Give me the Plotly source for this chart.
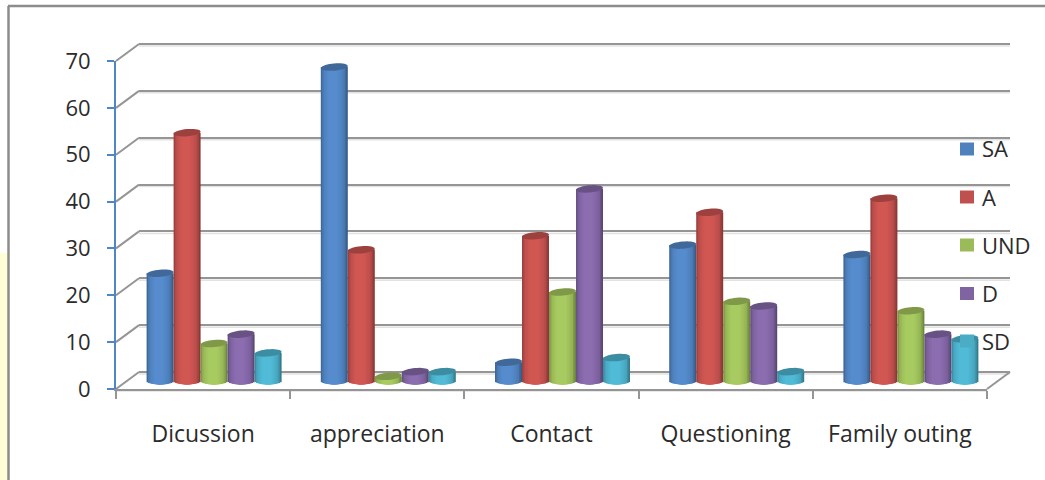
import numpy as np
import plotly.graph_objects as go

# Survey responses per communication topic
categories = ["Dicussion", "appreciation", "Contact", "Questioning", "Family outing"]
series_names = ["SA", "A", "UND", "D", "SD"]
sa_values = [23, 67, 4, 29, 27]
a_values = [53, 28, 31, 36, 39]
und_values = [8, 1, 19, 17, 15]
d_values = [10, 2, 41, 16, 10]
sd_values = [6, 2, 5, 2, 9]
y_ticks = [0, 10, 20, 30, 40, 50, 60, 70]
series_values = [sa_values, a_values, und_values, d_values, sd_values]
series_colors = ["#4F81BD", "#C0504D", "#9BBB59", "#8064A2", "#4BACC6"]
legend_rows = [148.5, 196.5, 244.5, 293.0, 340.5]

W, H = 1045, 480
FONT = "Open Sans"
TEXT = "#2b2b2b"
GRID = "#959595"


def fx(px):
    return px / W


def fy(px):
    return 1 - px / H


def shade(hex_color, factor):
    rgb = [int(hex_color[i:i + 2], 16) for i in (1, 3, 5)]
    return "rgb({},{},{})".format(*[min(255, int(c * factor)) for c in rgb])


# Pixel geometry of the pseudo-3D box
FRONT_L, FRONT_R, FRONT_TOP, FRONT_BOT = 116, 987, 61, 389
DEPTH_X, DEPTH_Y = 23, 17
BAR_DX, BAR_ZERO, BAR_TOP = 11, 381, 53
CAT_PX = (FRONT_R - FRONT_L) / len(categories)
UNIT_PX = (BAR_ZERO - BAR_TOP) / 70
WALL_UNIT = (FRONT_BOT - FRONT_TOP) / 70
BAR_PX = 27
STRIPS = 18
CAP_RY = 3.6
TILT = np.radians(-5)
# Extra value range so wall gridlines at 0 and 70 and the bars' curved undersides stay inside
WALL_PAD = 4
BAR_PAD = 3

fig = go.Figure()

# Back wall: its gridlines come from this subplot's own axis
fig.add_trace(go.Scatter(x=[0], y=[0], xaxis="x", yaxis="y", mode="none",
                         showlegend=False, hoverinfo="skip"))
# Front axes, carrying the tick labels
fig.add_trace(go.Scatter(x=categories, y=[0] * len(categories), xaxis="x2", yaxis="y2",
                         mode="none", showlegend=False, hoverinfo="skip"))

# Each cylinder is nested shaded bars painted from both edges towards the middle,
# so neighbouring strips never leave a seam and the underside stays curved
x_index = list(range(len(categories)))
strip_w = BAR_PX / STRIPS / CAT_PX
mid = STRIPS // 2
paint_order = list(range(mid)) + list(range(STRIPS - 1, mid - 1, -1))
for s, (name, vals, color) in enumerate(zip(series_names, series_values, series_colors)):
    start = (s - 2.5) * BAR_PX / CAT_PX
    for k in paint_order:
        t = (k + 0.5) / STRIPS
        factor = np.interp(t, [0, 0.1, 0.3, 0.6, 0.85, 1], [0.76, 0.98, 1.09, 1.09, 0.97, 0.66])
        arc = (CAP_RY / UNIT_PX) * np.sqrt(max(0, 1 - (2 * t - 1) ** 2))
        if k < mid:
            offset, width = start + k * strip_w, (mid - k) * strip_w
        else:
            offset, width = start + mid * strip_w, (k + 1 - mid) * strip_w
        fig.add_trace(go.Bar(
            x=x_index, y=[v + arc for v in vals], base=[-arc] * len(vals),
            width=width, offset=offset,
            xaxis="x3", yaxis="y3", marker=dict(color=shade(color, factor), line=dict(width=0)),
            name=name, showlegend=False, hoverinfo="skip",
        ))

shapes = []

# Pale page panel and the outer frame
shapes.append(dict(type="rect", xref="paper", yref="paper", x0=0, x1=fx(7.5), y0=fy(480), y1=fy(253),
                   fillcolor="#FFFFD6", line=dict(width=0), layer="below"))
shapes.append(dict(type="line", xref="paper", yref="paper", x0=fx(8.5), x1=fx(8.5), y0=fy(480), y1=fy(6),
                   line=dict(color="#8c8c8c", width=2.5), layer="below"))
shapes.append(dict(type="line", xref="paper", yref="paper", x0=fx(8), x1=1, y0=fy(6), y1=fy(6),
                   line=dict(color="#8c8c8c", width=2.5), layer="below"))

# Soft shadow under the wall gridlines, and the side-wall diagonals
for v in y_ticks:
    py = FRONT_BOT - WALL_UNIT * v
    shapes.append(dict(type="line", xref="paper", yref="paper",
                       x0=fx(FRONT_L + DEPTH_X), x1=fx(FRONT_R + DEPTH_X),
                       y0=fy(py - DEPTH_Y + 2), y1=fy(py - DEPTH_Y + 2),
                       line=dict(color="#e2e2e2", width=1.5), layer="below"))
    shapes.append(dict(type="line", xref="paper", yref="paper",
                       x0=fx(FRONT_L), x1=fx(FRONT_L + DEPTH_X), y0=fy(py), y1=fy(py - DEPTH_Y),
                       line=dict(color=GRID, width=2), layer="below"))
shapes.append(dict(type="line", xref="paper", yref="paper",
                   x0=fx(FRONT_R), x1=fx(FRONT_R + DEPTH_X), y0=fy(FRONT_BOT), y1=fy(FRONT_BOT - DEPTH_Y),
                   line=dict(color=GRID, width=2), layer="below"))
shapes.append(dict(type="line", xref="paper", yref="paper",
                   x0=fx(FRONT_L), x1=fx(FRONT_R), y0=fy(FRONT_BOT + 2), y1=fy(FRONT_BOT + 2),
                   line=dict(color="#e2e2e2", width=1.5), layer="below"))

# Slightly tilted elliptical caps, placed at each bar's value
theta = np.linspace(0, 2 * np.pi, 37)[:-1]
ex = (BAR_PX / 2) * np.cos(theta)
ey = CAP_RY * np.sin(theta)
cap_dx = (ex * np.cos(TILT) - ey * np.sin(TILT)) / CAT_PX
cap_dy = -(ex * np.sin(TILT) + ey * np.cos(TILT)) / UNIT_PX
for s, (vals, color) in enumerate(zip(series_values, series_colors)):
    for i, v in enumerate(vals):
        cx = i + (s - 2) * BAR_PX / CAT_PX
        pts = [f"{cx + dx:.5f},{v + dy:.4f}" for dx, dy in zip(cap_dx, cap_dy)]
        shapes.append(dict(type="path", xref="x3", yref="y3", path="M" + " L".join(pts) + " Z",
                           fillcolor=shade(color, 0.82), line=dict(width=0)))

# Legend keys sit on top of everything
annotations = []
for name, color, row in zip(series_names, series_colors, legend_rows):
    shapes.append(dict(type="rect", xref="paper", yref="paper", x0=fx(960), x1=fx(974),
                       y0=fy(row + 7), y1=fy(row - 6), fillcolor=color, line=dict(width=0)))
    annotations.append(dict(xref="paper", yref="paper", x=fx(980), y=fy(row), text=name,
                            xanchor="left", yanchor="middle", showarrow=False,
                            font=dict(family=FONT, size=22, color=TEXT)))

fig.update_layout(
    width=W, height=H, margin=dict(l=0, r=0, t=0, b=0), autosize=False,
    paper_bgcolor="white", plot_bgcolor="rgba(0,0,0,0)",
    barmode="overlay", showlegend=False, shapes=shapes, annotations=annotations,
    font=dict(family=FONT, size=20, color=TEXT),
    xaxis=dict(domain=[fx(FRONT_L + DEPTH_X), fx(FRONT_R + DEPTH_X)], range=[0, 1], visible=True,
               showgrid=False, zeroline=False, showline=False, showticklabels=False, ticks="", anchor="y",
               automargin=False),
    yaxis=dict(domain=[fy(FRONT_BOT - DEPTH_Y + WALL_PAD * WALL_UNIT), fy(FRONT_TOP - DEPTH_Y - WALL_PAD * WALL_UNIT)],
               range=[-WALL_PAD, 70 + WALL_PAD], tickvals=y_ticks,
               showgrid=True, gridcolor=GRID, gridwidth=2, zeroline=False, showline=False,
               showticklabels=False, ticks="", anchor="x", automargin=False),
    xaxis2=dict(domain=[fx(FRONT_L), fx(FRONT_R)], type="category", categoryorder="array",
                categoryarray=categories, range=[-0.5, len(categories) - 0.5], anchor="y2",
                showgrid=False, zeroline=False, showline=True, linecolor=GRID, linewidth=2,
                ticks="outside", tickson="boundaries", ticklen=8, tickwidth=2, tickcolor=GRID,
                ticklabelstandoff=23, tickfont=dict(family=FONT, size=23, color=TEXT), automargin=False),
    yaxis2=dict(domain=[fy(FRONT_BOT), fy(FRONT_TOP)], range=[0, 70], tickvals=y_ticks, anchor="x2",
                showgrid=False, zeroline=False, showline=True, linecolor="#4F86C6", linewidth=2,
                ticks="outside", ticklen=7, tickwidth=2, tickcolor="#4F86C6",
                ticklabelstandoff=12, tickfont=dict(family=FONT, size=22, color=TEXT), automargin=False),
    xaxis3=dict(domain=[fx(FRONT_L + BAR_DX), fx(FRONT_R + BAR_DX)], range=[-0.5, len(categories) - 0.5],
                visible=False, anchor="y3", automargin=False),
    yaxis3=dict(domain=[fy(BAR_ZERO + BAR_PAD * UNIT_PX), fy(BAR_TOP)], range=[-BAR_PAD, 70], visible=False,
                anchor="x3", automargin=False),
)

fig.write_html("out.html")
